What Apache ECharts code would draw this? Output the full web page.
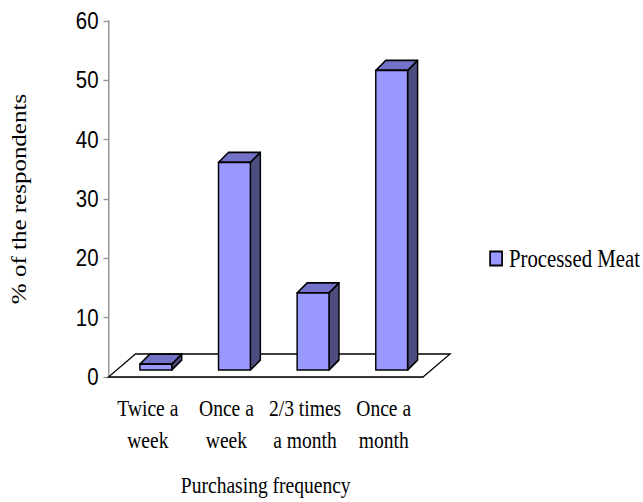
<!DOCTYPE html>
<html>
<head>
<meta charset="utf-8">
<style>
html,body{margin:0;padding:0;background:#fff;overflow:hidden}
#frame{width:643px;height:502px;overflow:hidden}
/* The plot is laid out wider than shown and condensed horizontally */
#chart{width:756.5px;height:502px;transform:scale(0.85,1);transform-origin:0 0}
</style>
<script src="https://cdn.jsdelivr.net/npm/echarts@6/dist/echarts.min.js"></script>
</head>
<body>
<div id="frame"><div id="chart"></div></div>
<script>
// Purchasing frequency of processed meat, share of respondents
const categories = ['Twice a\nweek', 'Once a\nweek', '2/3 times\na month', 'Once a\nmonth'];
const seriesName = 'Processed Meat';
const values = [1, 35, 13, 50.5];
const yTicks = { min: 0, max: 60, interval: 10 };

const SX = 0.85;
const px = x => x / SX;   // horizontal page pixels to chart units

const FACE = '#9999FF', TOP = '#7272C8', SIDE = '#4D4D80';
const EDGE = { stroke: '#000', lineWidth: 1.7, lineJoin: 'round' };
// Bars stand on the middle of the floor; depth gives the oblique look
const STAND_X = px(8), STAND_Y = -7, DEPTH_X = px(10), DEPTH_Y = 10, FLOOR_DX = px(27), FLOOR_DY = -23;

function renderFloor(params) {
  const r = params.coordSys, b = r.y + r.height;
  return {
    type: 'polygon',
    shape: { points: [[r.x, b], [r.x + FLOOR_DX, b + FLOOR_DY], [r.x + r.width + FLOOR_DX, b + FLOOR_DY], [r.x + r.width, b]] },
    style: { fill: '#fff', stroke: '#000', lineWidth: 1.4 },
    silent: true
  };
}

function renderBar(params, api) {
  const top = api.coord([api.value(0), api.value(1)]);
  const base = api.coord([api.value(0), 0]);
  const w = api.size([1, 0])[0] * 0.405;
  const l = top[0] + STAND_X - w / 2, r = l + w;
  const t = top[1] + STAND_Y, b = base[1] + STAND_Y;
  return {
    type: 'group',
    children: [
      { type: 'polygon', shape: { points: [[r, t], [r + DEPTH_X, t - DEPTH_Y], [r + DEPTH_X, b - DEPTH_Y], [r, b]] }, style: { fill: SIDE, ...EDGE } },
      { type: 'polygon', shape: { points: [[l, t], [l + DEPTH_X, t - DEPTH_Y], [r + DEPTH_X, t - DEPTH_Y], [r, t]] }, style: { fill: TOP, ...EDGE } },
      { type: 'rect', shape: { x: l, y: t, width: w, height: b - t }, style: { fill: FACE, ...EDGE } }
    ]
  };
}

const chart = echarts.init(document.getElementById('chart'), null, { renderer: 'svg' });
chart.setOption({
  animation: false,
  backgroundColor: '#fff',
  grid: { left: px(108.5), top: 21, width: px(314.5), height: 358 },
  legend: {
    data: [seriesName],
    left: px(485), top: 241,
    icon: 'rect',
    itemWidth: px(12), itemHeight: 14, itemGap: 0,
    textStyle: { fontFamily: 'Liberation Serif', fontSize: 24.5, color: '#000', padding: [0, 0, 0, 3] }
  },
  xAxis: {
    type: 'category',
    data: categories,
    boundaryGap: true,
    name: 'Purchasing frequency',
    nameLocation: 'middle',
    nameGap: 97,
    nameTextStyle: { fontFamily: 'Liberation Serif', fontSize: 23, color: '#000' },
    axisLine: { lineStyle: { color: '#999', width: 1.6 } },
    axisTick: { length: 5, lineStyle: { color: '#999', width: 1.6 } },
    axisLabel: { fontFamily: 'Liberation Serif', fontSize: 23, color: '#000', lineHeight: 32, margin: 15, interval: 0 }
  },
  yAxis: {
    type: 'value',
    min: yTicks.min, max: yTicks.max, interval: yTicks.interval,
    name: '% of the respondents',
    nameLocation: 'middle',
    nameGap: px(79),
    nameTextStyle: { fontFamily: 'Liberation Serif', fontSize: 25, color: '#000' },
    axisLine: { show: true, lineStyle: { color: '#999', width: 1.8 } },
    axisTick: { show: true, length: px(5), lineStyle: { color: '#999', width: 1.4 } },
    splitLine: { show: false },
    axisLabel: { fontFamily: 'Liberation Sans', fontSize: 24, color: '#000', margin: px(10), padding: [4, 0, 0, 0] }
  },
  series: [
    { type: 'custom', name: 'Floor', renderItem: renderFloor, data: [[0, 0]], silent: true, z: 1 },
    {
      type: 'custom',
      name: seriesName,
      renderItem: renderBar,
      encode: { x: 0, y: 1 },
      itemStyle: { color: FACE, borderColor: '#000', borderWidth: 1.7 },
      data: values.map((v, i) => [i, v]),
      z: 2
    }
  ]
});
</script>
</body>
</html>
